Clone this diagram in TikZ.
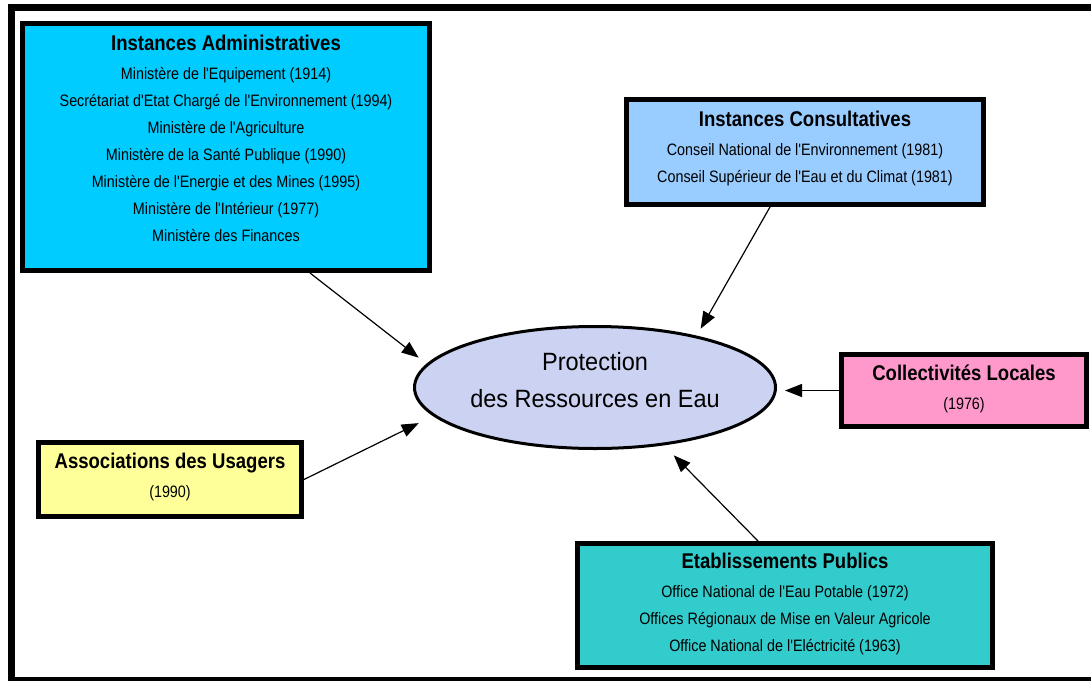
\documentclass[tikz,border=0pt]{standalone}
\usepackage{fontspec}
\setmainfont{Liberation Sans}
\newfontfamily\narrowfont{Liberation Sans}[FakeStretch=0.87]
\newfontfamily\ovalfont{Liberation Sans}[FakeStretch=0.94]
\usepackage{xcolor}
\usetikzlibrary{arrows.meta,shapes.geometric}
\definecolor{admincyan}{RGB}{0,204,255}
\definecolor{consultblue}{RGB}{153,204,255}
\definecolor{localpink}{RGB}{255,153,204}
\definecolor{usageryellow}{RGB}{255,255,153}
\definecolor{publicteal}{RGB}{51,204,204}
\definecolor{ovalblue}{RGB}{204,210,242}
\tikzstyle{box}=[rectangle, draw=black, line width=5pt, align=center, inner sep=0pt,
  font=\narrowfont\fontsize{16.5}{27}\selectfont]
\tikzstyle{oval}=[ellipse, draw=black, line width=3pt, fill=ovalblue, align=center,
  inner sep=0pt, font=\ovalfont\fontsize{25}{37}\selectfont]
\tikzstyle{arrow}=[-{Triangle[length=17pt,width=13pt]}, line width=1.2pt]
\tikzstyle{frameline}=[line width=7pt, line join=miter]
\newcommand{\boxtitle}[1]{{\fontsize{21.3}{27}\selectfont\bfseries #1}}
\newcommand{\lift}[1]{\rule[-#1]{0pt}{#1}}

\begin{document}
\begin{tikzpicture}[x=1pt,y=-1pt]
\useasboundingbox (0,0) rectangle (1091,680);
\draw[frameline] (1100,7.5) -- (11,7.5) -- (11,680.5) -- (1100,680.5);

\node (admin) [box, fill=admincyan, minimum width=407pt, minimum height=247pt] at (226,147)
  {\boxtitle{Instances Administratives}\\[2pt]
   Ministère de l'Equipement (1914)\\
   Secrétariat d'Etat Chargé de l'Environnement (1994)\\
   Ministère de l'Agriculture\\
   Ministère de la Santé Publique (1990)\\
   Ministère de l'Energie et des Mines (1995)\\
   Ministère de l'Intérieur (1977)\\
   Ministère des Finances\lift{18pt}};
\node (consult) [box, fill=consultblue, minimum width=357pt, minimum height=105pt] at (805,152)
  {\boxtitle{Instances Consultatives}\\[2pt]
   Conseil National de l'Environnement (1981)\\
   Conseil Supérieur de l'Eau et du Climat (1981)\lift{10pt}};
\node (coll) [box, fill=localpink, minimum width=245pt, minimum height=72pt] at (964,390.5)
  {\boxtitle{Collectivités Locales}\\[2pt]
   (1976)\lift{6pt}};
\node (assoc) [box, fill=usageryellow, minimum width=263pt, minimum height=74pt] at (170,479.5)
  {\boxtitle{Associations des Usagers}\\[2pt]
   (1990)\lift{8pt}};
\node (etab) [box, fill=publicteal, minimum width=415pt, minimum height=124pt] at (785,605.5)
  {\boxtitle{Etablissements Publics}\\[2pt]
   Office National de l'Eau Potable (1972)\\
   Offices Régionaux de Mise en Valeur Agricole\\
   Office National de l'Eléctricité (1963)\lift{6pt}};
\node (prot) [oval, minimum width=361pt, minimum height=122pt] at (595,387.5)
  {Protection\\des Ressources en Eau\lift{16pt}};

\draw[arrow, shorten >=10pt] ([xshift=84pt]admin.south) -- (prot.172);
\draw[arrow, shorten >=8pt] ([xshift=-35pt]consult.south) -- (prot.27);
\draw[arrow, shorten >=8pt] (coll.west) -- (coll.west -| prot.east);
\draw[arrow, shorten >=16pt] (assoc.east) -- (prot.190);
\draw[arrow, shorten >=14pt] ([xshift=-27pt]etab.north) -- (prot.-40);
\end{tikzpicture}
\end{document}
